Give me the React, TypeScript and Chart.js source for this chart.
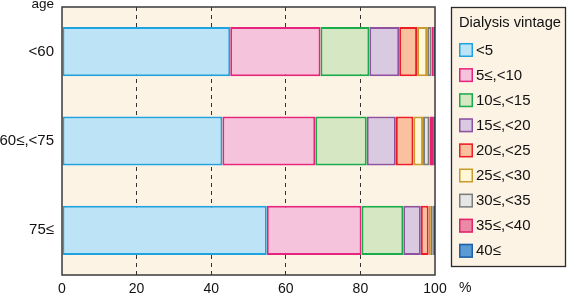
import React, { useEffect, useRef } from "react";
import { Chart, registerables } from "chart.js";

Chart.register(...registerables);

const categories = ["<60", "60≤,<75", "75≤"];
const seriesLabels = ["<5", "5≤,<10", "10≤,<15", "15≤,<20", "20≤,<25", "25≤,<30", "30≤,<35", "35≤,<40", "40≤"];
const v_lt5 = [45.1, 43.0, 54.9];
const v_5_10 = [24.2, 24.9, 25.4];
const v_10_15 = [13.1, 13.8, 11.2];
const v_15_20 = [8.0, 7.8, 4.7];
const v_20_25 = [4.8, 4.7, 2.1];
const v_25_30 = [2.7, 2.6, 0.6];
const v_30_35 = [1.2, 1.7, 0.5];
const v_35_40 = [0.6, 1.0, 0.3];
const v_40 = [0.3, 0.5, 0.3];
const seriesValues = [v_lt5, v_5_10, v_10_15, v_15_20, v_20_25, v_25_30, v_30_35, v_35_40, v_40];
const xTicks = [0, 20, 40, 60, 80, 100];

const fills = ["#bde3f7", "#f6c3dc", "#d5e8c3", "#d9c9e1", "#f9c19e", "#fff7d6", "#e6e6e6", "#ea8aa6", "#5b9bd5"];
const borders = ["#1fa3e0", "#e6247d", "#1aab4b", "#8e52a1", "#ee1c25", "#c99a2e", "#7d7d7d", "#e3236b", "#1f5fa8"];

const FONT = '"Liberation Sans", Arial, Helvetica, sans-serif';
const CREAM = "#fdf3e5";

const decorPlugin = {
  id: "decor",
  beforeDraw(chart: any) {
    const { ctx, chartArea } = chart;
    ctx.save();
    ctx.fillStyle = CREAM;
    ctx.fillRect(chartArea.left, chartArea.top, chartArea.right - chartArea.left, chartArea.bottom - chartArea.top);
    ctx.restore();
  },
  afterDraw(chart: any) {
    const { ctx, chartArea } = chart;
    ctx.save();
    ctx.strokeStyle = "#3a3a3a";
    ctx.lineWidth = 1.5;
    ctx.strokeRect(chartArea.left, chartArea.top, chartArea.right - chartArea.left, chartArea.bottom - chartArea.top);
    ctx.fillStyle = "#111";
    ctx.font = `13.5px ${FONT}`;
    ctx.textAlign = "right";
    ctx.textBaseline = "alphabetic";
    ctx.fillText("age", chartArea.left - 8, chartArea.top + 0.5);
    ctx.font = `14px ${FONT}`;
    ctx.textAlign = "left";
    ctx.textBaseline = "middle";
    ctx.fillText("%", chartArea.right + 24, 288);
    const bx = 451.5, by = 7.5, bw = 114, bh = 259;
    ctx.fillStyle = CREAM;
    ctx.fillRect(bx, by, bw, bh);
    ctx.strokeStyle = "#2a2a2a";
    ctx.lineWidth = 1.3;
    ctx.strokeRect(bx, by, bw, bh);
    ctx.fillStyle = "#111";
    ctx.font = `14.7px ${FONT}`;
    ctx.textBaseline = "middle";
    ctx.fillText("Dialysis vintage", 459, 23);
    chart.data.datasets.forEach((ds: any, i: number) => {
      const cy = 50 + i * 25.1;
      ctx.fillStyle = ds.backgroundColor;
      ctx.fillRect(459, cy - 7, 14, 14);
      ctx.strokeStyle = ds.borderColor;
      ctx.lineWidth = 1.5;
      ctx.strokeRect(459.75, cy - 6.25, 12.5, 12.5);
      ctx.fillStyle = "#111";
      ctx.font = `15px ${FONT}`;
      ctx.fillText(ds.label, 476, cy + 0.5);
    });
    ctx.restore();
  },
};

export default function App() {
  const ref = useRef<HTMLCanvasElement>(null);
  useEffect(() => {
    if (!ref.current) return;
    const chart = new Chart(ref.current, {
      type: "bar",
      data: {
        labels: categories,
        datasets: seriesLabels.map((label, i) => ({
          label,
          data: seriesValues[i],
          backgroundColor: fills[i],
          borderColor: borders[i],
          borderWidth: 2,
          borderSkipped: false,
          categoryPercentage: 1,
          barPercentage: 0.55,
        })),
      },
      options: {
        indexAxis: "y",
        animation: false,
        responsive: true,
        maintainAspectRatio: false,
        layout: { padding: { left: 0, right: 133, top: 7, bottom: 0 } },
        plugins: { legend: { display: false }, tooltip: { enabled: false } },
        scales: {
          x: {
            stacked: true,
            min: 0,
            max: 100,
            afterBuildTicks: (s: any) => {
              s.ticks = xTicks.map((v) => ({ value: v }));
            },
            afterFit: (s: any) => {
              s.height = 19;
              s.paddingLeft = 0;
              s.paddingRight = 0;
            },
            border: { display: false },
            grid: {
              color: (c: any) => (c.tick && (c.tick.value === 0 || c.tick.value === 100) ? "rgba(0,0,0,0)" : "#333"),
              lineWidth: 1,
              drawTicks: false,
            },
            ticks: { color: "#111", font: { family: FONT, size: 14 }, padding: 6, maxRotation: 0 },
          } as any,
          y: {
            stacked: true,
            afterFit: (s: any) => {
              s.width = 62;
              s.paddingTop = 0;
              s.paddingBottom = 0;
            },
            border: { display: false },
            grid: { display: false, drawTicks: false },
            ticks: { color: "#111", font: { family: FONT, size: 15 }, padding: 8 },
          } as any,
        },
      },
      plugins: [decorPlugin],
    });
    (chart.options.scales as any).x.grid.borderDash = [4, 4];
    (chart.options.scales as any).x.border.dash = [4, 4];
    chart.update();
    return () => chart.destroy();
  }, []);
  return (
    <div style={{ position: "absolute", left: 0, top: 0, width: 568, height: 294 }}>
      <canvas ref={ref} />
    </div>
  );
}
